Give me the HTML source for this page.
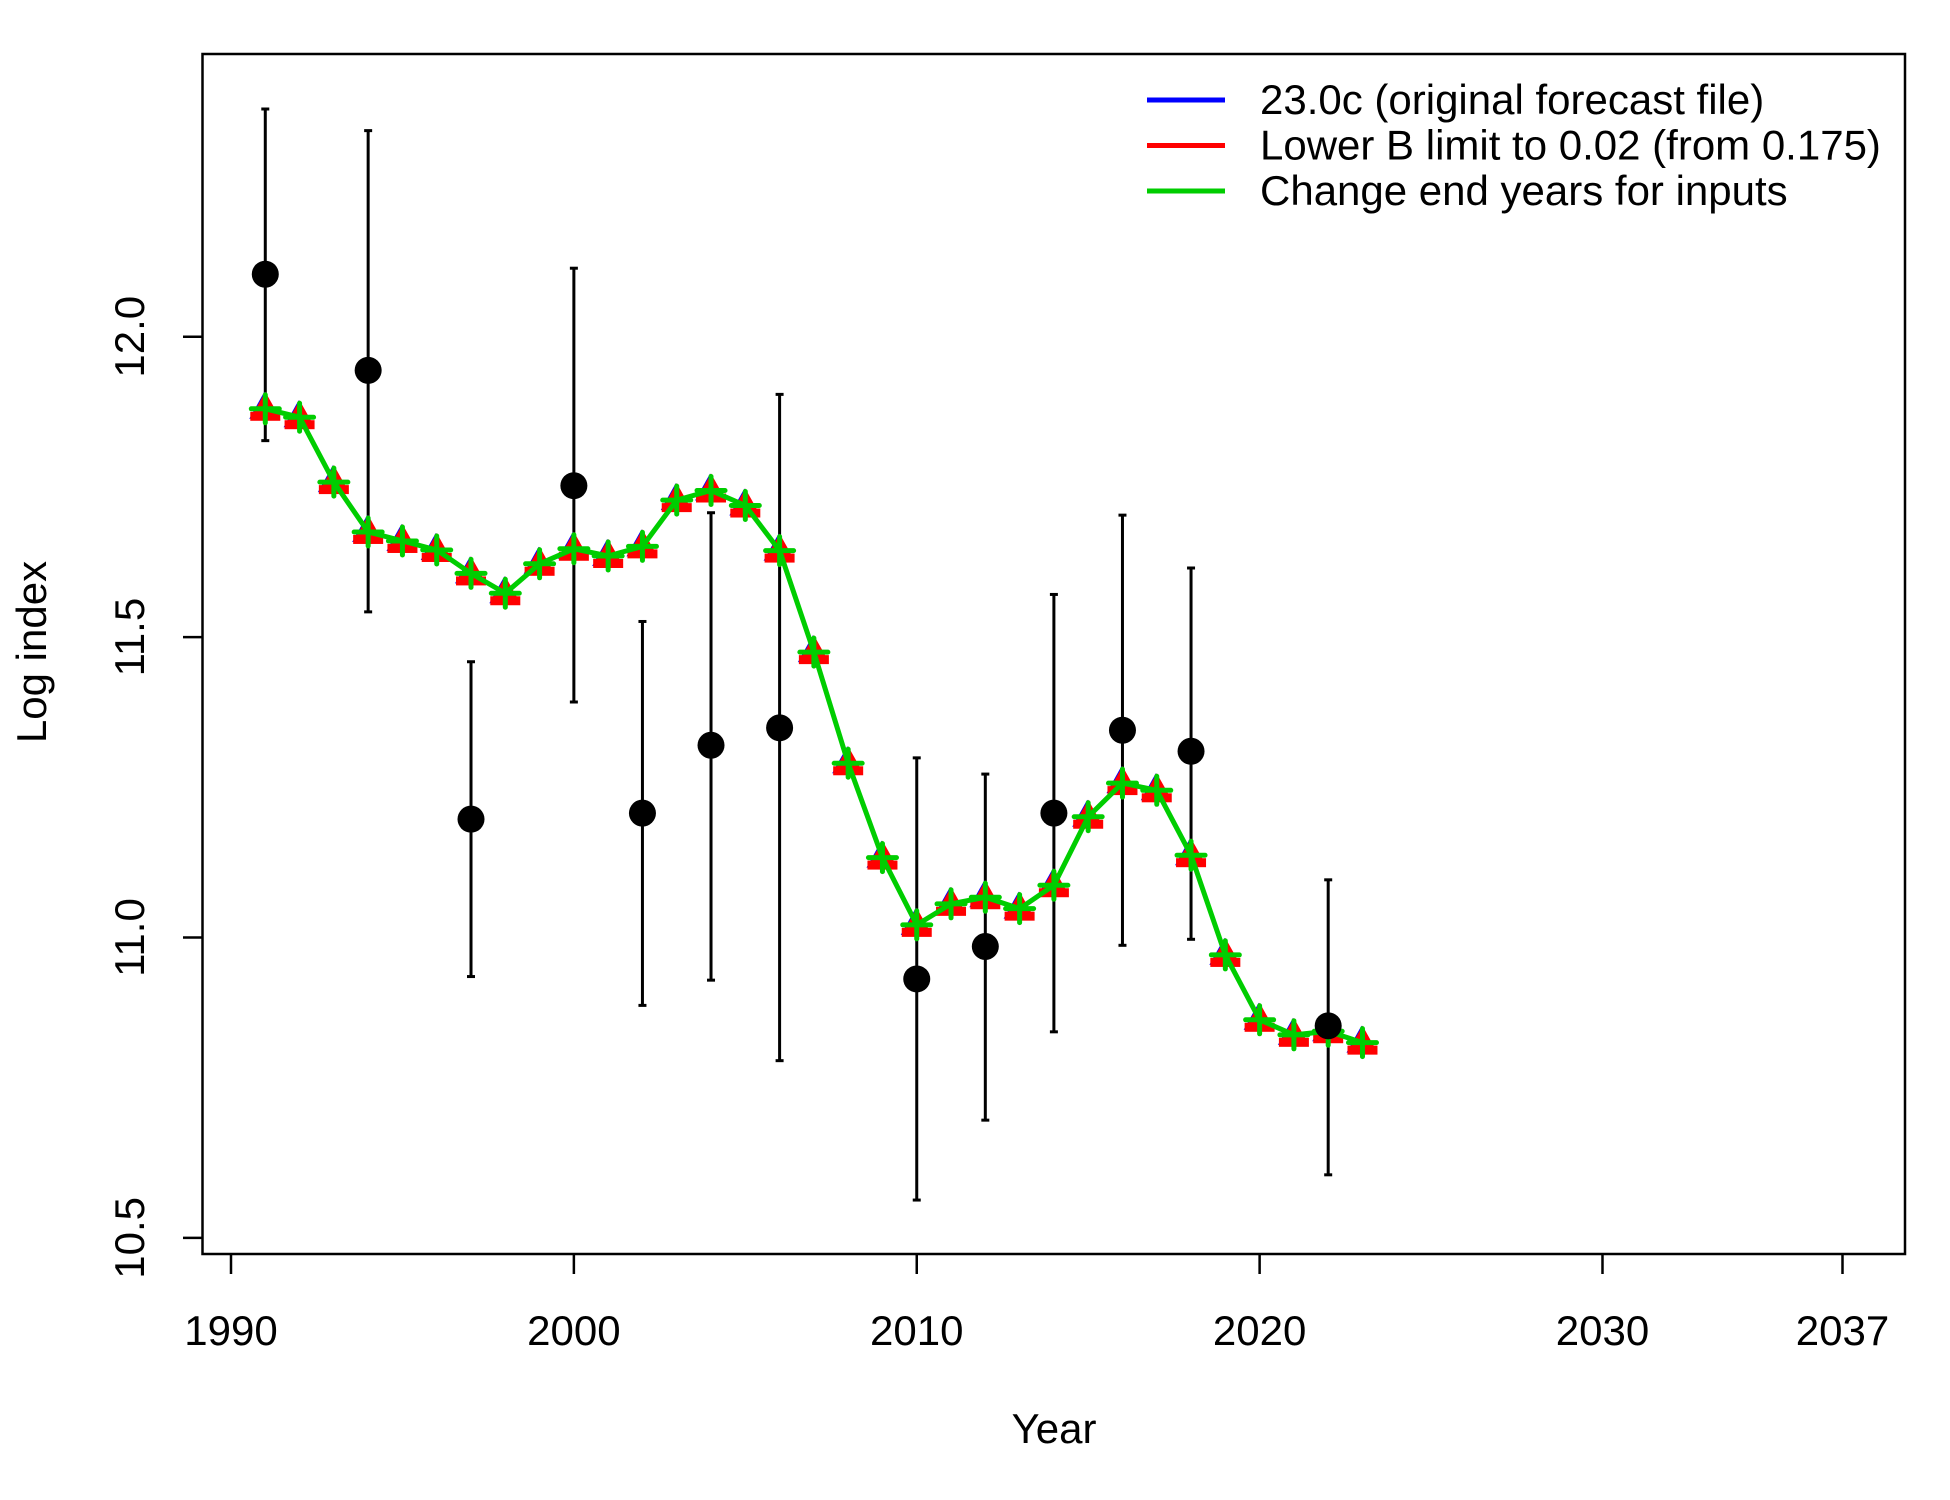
<!DOCTYPE html>
<html><head><meta charset="utf-8"><style>
html,body{margin:0;padding:0;background:#fff;}
svg{display:block;font-family:"Liberation Sans",Arial,sans-serif;}
</style></head><body>
<svg id="chart" width="1950" height="1500" viewBox="0 0 1950 1500">
<rect x="0" y="0" width="1950" height="1500" fill="#fff"/>
<g id="axes"></g>
<g id="errs"></g>
<g id="series"></g>
<g id="obs"></g>
<g id="legend"></g>
</svg>
<script>
const years = [1991,1992,1993,1994,1995,1996,1997,1998,1999,2000,2001,2002,2003,2004,2005,2006,2007,2008,2009,2010,2011,2012,2013,2014,2015,2016,2017,2018,2019,2020,2021,2022,2023];
const fitted = [11.88,11.866,11.758,11.675,11.66,11.645,11.606,11.573,11.622,11.647,11.635,11.651,11.728,11.744,11.719,11.644,11.475,11.29,11.133,11.021,11.056,11.067,11.048,11.087,11.201,11.257,11.245,11.137,10.971,10.863,10.838,10.844,10.825];
const obsYears = [1991,1994,1997,2000,2002,2004,2006,2010,2012,2014,2016,2018,2022];
const obsValues = [12.104,11.944,11.197,11.752,11.207,11.32,11.349,10.931,10.985,11.207,11.345,11.31,10.853];
const obsLow = [11.827,11.542,10.935,11.392,10.887,10.929,10.795,10.563,10.696,10.843,10.987,10.997,10.605];
const obsHigh = [12.379,12.343,11.459,12.114,11.526,11.707,11.904,11.299,11.272,11.571,11.703,11.615,11.096];
const xTicks = [1990,2000,2010,2020,2030,2037];
const yTicks = [10.5,11.0,11.5,12.0];
const yTickLabels = ["10.5","11.0","11.5","12.0"];
const legendLabels = ["23.0c (original forecast file)","Lower B limit to 0.02 (from 0.175)","Change end years for inputs"];
const legendColors = ["#0000ff","#ff0000","#00cd00"];

const NS="http://www.w3.org/2000/svg";
const X = y => 231 + (y-1990)*(1842.5-231)/47;
const Y = v => 937.5 - (v-11.0)*600.8;
function mk(tag,attrs,parent){const e=document.createElementNS(NS,tag);for(const k in attrs)e.setAttribute(k,attrs[k]);parent.appendChild(e);return e;}
const axes=document.getElementById('axes');
let e=mk('rect',{x:202.5,y:54,width:1702.5,height:1200,fill:'none',stroke:'#000','stroke-width':2.5},axes);


xTicks.forEach(t=>{
  mk('line',{x1:X(t),x2:X(t),y1:1254,y2:1274,stroke:'#000','stroke-width':2.5},axes);
  const tx=mk('text',{x:X(t),y:1345,'font-size':42,'text-anchor':'middle'},axes);
  tx.textContent=t;
  
  
});
yTicks.forEach((t,i)=>{
  mk('line',{x1:183,x2:202.5,y1:Y(t),y2:Y(t),stroke:'#000','stroke-width':2.5},axes);
  const tx=mk('text',{x:144,y:Y(t),'font-size':42,'text-anchor':'middle',transform:`rotate(-90 144 ${Y(t)})`},axes);
  tx.textContent=yTickLabels[i];
  
  
});
let t1=mk('text',{x:1054,y:1443,'font-size':42,'text-anchor':'middle'},axes);t1.textContent='Year';


let t2=mk('text',{x:46,y:652,'font-size':42,'text-anchor':'middle',transform:'rotate(-90 46 652)'},axes);t2.textContent='Log index';



const errs=document.getElementById('errs');
obsYears.forEach((yr,i)=>{
  const x=X(yr);
  const g=mk('g',{},errs);
  
  
  mk('line',{x1:x,x2:x,y1:Y(obsLow[i]),y2:Y(obsHigh[i]),stroke:'#000','stroke-width':3},g);
  mk('line',{x1:x-4,x2:x+4,y1:Y(obsLow[i]),y2:Y(obsLow[i]),stroke:'#000','stroke-width':3},g);
  mk('line',{x1:x-4,x2:x+4,y1:Y(obsHigh[i]),y2:Y(obsHigh[i]),stroke:'#000','stroke-width':3},g);
});

const ser=document.getElementById('series');
const pts=years.map((yr,i)=>X(yr)+','+Y(fitted[i])).join(' ');
e=mk('polyline',{points:pts,fill:'none',stroke:'#0000ff','stroke-width':4},ser);


e=mk('polyline',{points:pts,fill:'none',stroke:'#ff0000','stroke-width':4},ser);


years.forEach((yr,i)=>{
  const x=X(yr),y=Y(fitted[i]);
  let m=mk('polygon',{points:`${x-1},${y-17} ${x-16},${y+10} ${x+14},${y+10}`,fill:'#0000ff'},ser);
  
  
  m=mk('polygon',{points:`${x},${y-17} ${x-14},${y+8} ${x+14},${y+8}`,fill:'#ff0000'},ser);
  
  
  mk('rect',{x:x-15,y:y+3,width:30,height:9,fill:'#ff0000'},ser);
});
e=mk('polyline',{points:pts,fill:'none',stroke:'#00cd00','stroke-width':5,'stroke-linejoin':'round'},ser);


years.forEach((yr,i)=>{
  const x=X(yr),y=Y(fitted[i]);
  const g=mk('g',{stroke:'#00cd00','stroke-width':5,'stroke-linecap':'round'},ser);
  
  
  mk('line',{x1:x-14,x2:x+14,y1:y,y2:y},g);
  mk('line',{x1:x,x2:x,y1:y-14,y2:y+14},g);
});

const obs=document.getElementById('obs');
obsYears.forEach((yr,i)=>{
  const c=mk('circle',{cx:X(yr),cy:Y(obsValues[i]),r:13.5,fill:'#000'},obs);
  
  
});

const lg=document.getElementById('legend');
legendLabels.forEach((lab,i)=>{
  const y=100+i*45.5;
  const g=mk('g',{},lg);
  
  
  mk('line',{x1:1147,x2:1225,y1:y,y2:y,stroke:legendColors[i],'stroke-width':5},g);
  const t=mk('text',{x:1260,y:y+14,'font-size':42},g);
  t.textContent=lab;
});
</script>
</body></html>
